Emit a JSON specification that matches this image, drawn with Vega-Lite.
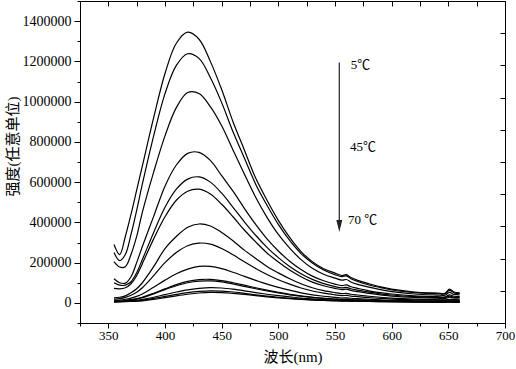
{
  "$schema": "https://vega.github.io/schema/vega-lite/v6.json",
  "width": 425,
  "height": 322,
  "autosize": "none",
  "padding": {"left": 80, "top": 1, "right": 11, "bottom": 46},
  "background": "white",
  "config": {
    "view": {"stroke": "black", "strokeWidth": 1},
    "axis": {
      "grid": false,
      "domainColor": "black",
      "tickColor": "black",
      "labelColor": "black",
      "titleColor": "black",
      "labelFont": "Liberation Serif",
      "titleFont": "Liberation Serif, Noto Sans CJK SC",
      "titleFontWeight": "normal",
      "labelFlush": false,
      "labelOverlap": false
    }
  },
  "datasets": {
    "spectra": [
      {"w":355,"t5":290000,"t10":250000,"t15":205000,"t20":120000,"t25":100000,"t30":72000,"t35":25000,"t40":18000,"t45":12000,"t50":8000,"t55":7000,"t60":6000,"t65":5000,"t70":4000},
      {"w":360,"t5":240000,"t10":210000,"t15":178000,"t20":100000,"t25":88000,"t30":70000,"t35":28000,"t40":21000,"t45":14000,"t50":9000,"t55":8000,"t60":7000,"t65":6000,"t70":5000},
      {"w":365,"t5":330000,"t10":240000,"t15":180000,"t20":98000,"t25":88000,"t30":75000,"t35":35000,"t40":27000,"t45":18000,"t50":12000,"t55":11000,"t60":8000,"t65":7000,"t70":6000},
      {"w":370,"t5":440000,"t10":340000,"t15":240000,"t20":130000,"t25":105000,"t30":95000,"t35":50000,"t40":38000,"t45":24000,"t50":16000,"t55":15000,"t60":10000,"t65":8000,"t70":7000},
      {"w":375,"t5":560000,"t10":460000,"t15":330000,"t20":200000,"t25":150000,"t30":135000,"t35":70000,"t40":53000,"t45":32000,"t50":21000,"t55":19000,"t60":13000,"t65":10000,"t70":8000},
      {"w":380,"t5":680000,"t10":590000,"t15":450000,"t20":280000,"t25":215000,"t30":195000,"t35":100000,"t40":75000,"t45":44000,"t50":28000,"t55":26000,"t60":17000,"t65":13000,"t70":10000},
      {"w":390,"t5":920000,"t10":830000,"t15":650000,"t20":430000,"t25":350000,"t30":318000,"t35":180000,"t40":135000,"t45":78000,"t50":48000,"t55":45000,"t60":28000,"t65":22000,"t70":17000},
      {"w":400,"t5":1140000,"t10":1040000,"t15":830000,"t20":580000,"t25":475000,"t30":428000,"t35":270000,"t40":200000,"t45":113000,"t50":70000,"t55":66000,"t60":41000,"t65":32000,"t70":26000},
      {"w":410,"t5":1290000,"t10":1180000,"t15":970000,"t20":685000,"t25":565000,"t30":510000,"t35":330000,"t40":250000,"t45":145000,"t50":91000,"t55":85000,"t60":54000,"t65":42000,"t70":35000},
      {"w":420,"t5":1345000,"t10":1238000,"t15":1045000,"t20":743000,"t25":615000,"t30":555000,"t35":376000,"t40":284000,"t45":168000,"t50":107000,"t55":100000,"t60":65000,"t65":51000,"t70":43000},
      {"w":430,"t5":1310000,"t10":1215000,"t15":1040000,"t20":748000,"t25":626000,"t30":565000,"t35":392000,"t40":297000,"t45":181000,"t50":116000,"t55":108000,"t60":72000,"t65":57000,"t70":49000},
      {"w":440,"t5":1200000,"t10":1120000,"t15":975000,"t20":708000,"t25":600000,"t30":541000,"t35":382000,"t40":292000,"t45":181000,"t50":117000,"t55":109000,"t60":76000,"t65":60000,"t70":52000},
      {"w":450,"t5":1060000,"t10":995000,"t15":880000,"t20":632000,"t25":545000,"t30":490000,"t35":350000,"t40":270000,"t45":170000,"t50":111000,"t55":104000,"t60":74000,"t65":58000,"t70":51000},
      {"w":460,"t5":900000,"t10":850000,"t15":760000,"t20":555000,"t25":475000,"t30":428000,"t35":309000,"t40":239000,"t45":152000,"t50":100000,"t55":94000,"t60":68000,"t65":54000,"t70":47000},
      {"w":470,"t5":760000,"t10":720000,"t15":640000,"t20":470000,"t25":403000,"t30":362000,"t35":262000,"t40":204000,"t45":132000,"t50":88000,"t55":82000,"t60":60000,"t65":47000,"t70":42000},
      {"w":480,"t5":620000,"t10":590000,"t15":525000,"t20":390000,"t25":336000,"t30":303000,"t35":221000,"t40":171000,"t45":112000,"t50":75000,"t55":70000,"t60":51000,"t65":40000,"t70":36000},
      {"w":490,"t5":510000,"t10":485000,"t15":425000,"t20":318000,"t25":276000,"t30":248000,"t35":181000,"t40":141000,"t45":93000,"t50":63000,"t55":59000,"t60":43000,"t65":34000,"t70":30000},
      {"w":500,"t5":410000,"t10":390000,"t15":340000,"t20":258000,"t25":225000,"t30":203000,"t35":149000,"t40":115000,"t45":77000,"t50":52000,"t55":49000,"t60":36000,"t65":28000,"t70":25000},
      {"w":510,"t5":325000,"t10":310000,"t15":272000,"t20":207000,"t25":181000,"t30":163000,"t35":120000,"t40":93000,"t45":63000,"t50":43000,"t55":40000,"t60":30000,"t65":23000,"t70":21000},
      {"w":520,"t5":255000,"t10":245000,"t15":215000,"t20":166000,"t25":145000,"t30":130000,"t35":95000,"t40":74000,"t45":50000,"t50":35000,"t55":33000,"t60":24000,"t65":19000,"t70":17000},
      {"w":530,"t5":205000,"t10":198000,"t15":172000,"t20":133000,"t25":117000,"t30":103000,"t35":75000,"t40":59000,"t45":40000,"t50":28000,"t55":27000,"t60":20000,"t65":16000,"t70":14000},
      {"w":540,"t5":170000,"t10":163000,"t15":142000,"t20":110000,"t25":96000,"t30":85000,"t35":61000,"t40":48000,"t45":33000,"t50":23000,"t55":22000,"t60":16000,"t65":13000,"t70":12000},
      {"w":550,"t5":148000,"t10":140000,"t15":123000,"t20":93000,"t25":81000,"t30":72000,"t35":51000,"t40":40000,"t45":27000,"t50":19000,"t55":18000,"t60":13000,"t65":11000,"t70":10000},
      {"w":556,"t5":136000,"t10":130000,"t15":113000,"t20":86000,"t25":75000,"t30":66000,"t35":46000,"t40":36000,"t45":24000,"t50":17000,"t55":16000,"t60":12000,"t65":10000,"t70":9000},
      {"w":560,"t5":140000,"t10":134000,"t15":116000,"t20":89000,"t25":77000,"t30":68000,"t35":47000,"t40":37000,"t45":25000,"t50":18000,"t55":17000,"t60":12000,"t65":10000,"t70":9000},
      {"w":564,"t5":126000,"t10":120000,"t15":104000,"t20":80000,"t25":70000,"t30":62000,"t35":43000,"t40":34000,"t45":23000,"t50":16000,"t55":15000,"t60":11000,"t65":9000,"t70":8000},
      {"w":570,"t5":112000,"t10":106000,"t15":92000,"t20":72000,"t25":63000,"t30":56000,"t35":39000,"t40":31000,"t45":21000,"t50":15000,"t55":14000,"t60":10000,"t65":8000,"t70":8000},
      {"w":580,"t5":95000,"t10":89000,"t15":78000,"t20":60000,"t25":53000,"t30":47000,"t35":33000,"t40":26000,"t45":18000,"t50":13000,"t55":12000,"t60":9000,"t65":7000,"t70":7000},
      {"w":590,"t5":80000,"t10":76000,"t15":66000,"t20":51000,"t25":45000,"t30":40000,"t35":28000,"t40":22000,"t45":15000,"t50":11000,"t55":10000,"t60":8000,"t65":6000,"t70":6000},
      {"w":600,"t5":68000,"t10":64000,"t15":56000,"t20":44000,"t25":39000,"t30":34000,"t35":24000,"t40":19000,"t45":13000,"t50":10000,"t55":9000,"t60":7000,"t65":6000,"t70":5000},
      {"w":620,"t5":54000,"t10":51000,"t15":44000,"t20":35000,"t25":31000,"t30":27000,"t35":19000,"t40":15000,"t45":10000,"t50":8000,"t55":7000,"t60":6000,"t65":5000,"t70":4000},
      {"w":640,"t5":49000,"t10":46000,"t15":39000,"t20":31000,"t25":27000,"t30":23000,"t35":16000,"t40":13000,"t45":9000,"t50":7000,"t55":6000,"t60":5000,"t65":4000,"t70":4000},
      {"w":647,"t5":48000,"t10":45000,"t15":38000,"t20":30000,"t25":26000,"t30":22000,"t35":15000,"t40":12000,"t45":8000,"t50":7000,"t55":6000,"t60":5000,"t65":4000,"t70":4000},
      {"w":651,"t5":68000,"t10":62000,"t15":52000,"t20":40000,"t25":34000,"t30":28000,"t35":18000,"t40":14000,"t45":10000,"t50":8000,"t55":7000,"t60":6000,"t65":5000,"t70":4000},
      {"w":655,"t5":54000,"t10":50000,"t15":42000,"t20":33000,"t25":28000,"t30":24000,"t35":16000,"t40":13000,"t45":9000,"t50":7000,"t55":6000,"t60":5000,"t65":4000,"t70":4000},
      {"w":660,"t5":50000,"t10":47000,"t15":40000,"t20":31000,"t25":27000,"t30":23000,"t35":15000,"t40":12000,"t45":8000,"t50":7000,"t55":6000,"t60":5000,"t65":4000,"t70":4000}
    ],
    "labels": [
      {"x": 563.9, "y": 1182000, "label": "5℃"},
      {"x": 563.2, "y": 774500, "label": "45℃"},
      {"x": 561.5, "y": 411800, "label": "70 ℃"}
    ],
    "arrow": [
      {"x": 553.8, "y1": 1195000, "y2": 411800, "yt": 382000}
    ]
  },
  "layer": [
    {
      "data": {"name": "spectra"},
      "transform": [
        {"fold": ["t5","t10","t15","t20","t25","t30","t35","t40","t45","t50","t55","t60","t65","t70"], "as": ["temp", "intensity"]}
      ],
      "mark": {"type": "line", "color": "black", "strokeWidth": 1.2, "interpolate": "catmull-rom"},
      "encoding": {
        "x": {
          "field": "w", "type": "quantitative",
          "scale": {"domain": [325, 700], "nice": false, "zero": false},
          "axis": {
            "orient": "bottom",
            "values": [325,350,375,400,425,450,475,500,525,550,575,600,625,650,675,700],
            "labelExpr": "datum.value % 50 === 0 ? datum.label : ''",
            "tickSize": {"condition": {"test": "datum.value % 50 !== 0", "value": 3}, "value": 5},
            "labelFontSize": 13,
            "labelPadding": 1,
            "title": "波长(nm)",
            "titleFontSize": 15,
            "titleBaseline": "top",
            "titleY": 26
          }
        },
        "y": {
          "field": "intensity", "type": "quantitative",
          "scale": {"domain": [-100000, 1500000], "nice": false, "zero": false},
          "axis": {
            "orient": "left",
            "values": [-100000,0,100000,200000,300000,400000,500000,600000,700000,800000,900000,1000000,1100000,1200000,1300000,1400000,1500000],
            "format": "d",
            "labelExpr": "datum.value % 200000 === 0 ? datum.label : ''",
            "tickSize": {"condition": {"test": "datum.value % 200000 !== 0", "value": 3}, "value": 6},
            "labelFontSize": 14,
            "labelPadding": 3,
            "title": "强度(任意单位)",
            "titleFontSize": 15,
            "titleX": -60,
            "titleY": 145
          }
        },
        "detail": {"field": "temp", "type": "nominal"}
      }
    },
    {
      "data": {"name": "labels"},
      "mark": {"type": "text", "align": "left", "baseline": "middle", "font": "Liberation Serif, Noto Sans CJK SC", "fontSize": 13, "color": "black"},
      "encoding": {
        "x": {
          "field": "x", "type": "quantitative",
          "scale": {"domain": [325, 700], "nice": false, "zero": false},
          "axis": {"orient": "top", "values": [325,350,375,400,425,450,475,500,525,550,575,600,625,650,675,700], "labels": false, "domain": false, "tickSize": -5, "title": null}
        },
        "y": {
          "field": "y", "type": "quantitative",
          "scale": {"domain": [-100000, 1500000], "nice": false, "zero": false},
          "axis": {"orient": "right", "values": [-100000,60000,220000,380000,540000,700000,860000,1020000,1180000,1340000,1500000], "labels": false, "domain": false, "tickSize": -5, "title": null}
        },
        "text": {"field": "label", "type": "nominal"}
      }
    },
    {
      "data": {"name": "arrow"},
      "mark": {"type": "rule", "color": "#333333", "strokeWidth": 1.3},
      "encoding": {
        "x": {"field": "x", "type": "quantitative", "axis": null},
        "y": {"field": "y1", "type": "quantitative", "axis": null},
        "y2": {"field": "y2"}
      }
    },
    {
      "data": {"name": "arrow"},
      "mark": {"type": "point", "shape": "M-0.5,-1L0.5,-1L0,1Z", "size": 144, "filled": true, "color": "#222222", "opacity": 1, "strokeWidth": 0},
      "encoding": {
        "x": {"field": "x", "type": "quantitative", "axis": null},
        "y": {"field": "yt", "type": "quantitative", "axis": null}
      }
    }
  ],
  "resolve": {"axis": {"x": "independent", "y": "independent"}}
}
